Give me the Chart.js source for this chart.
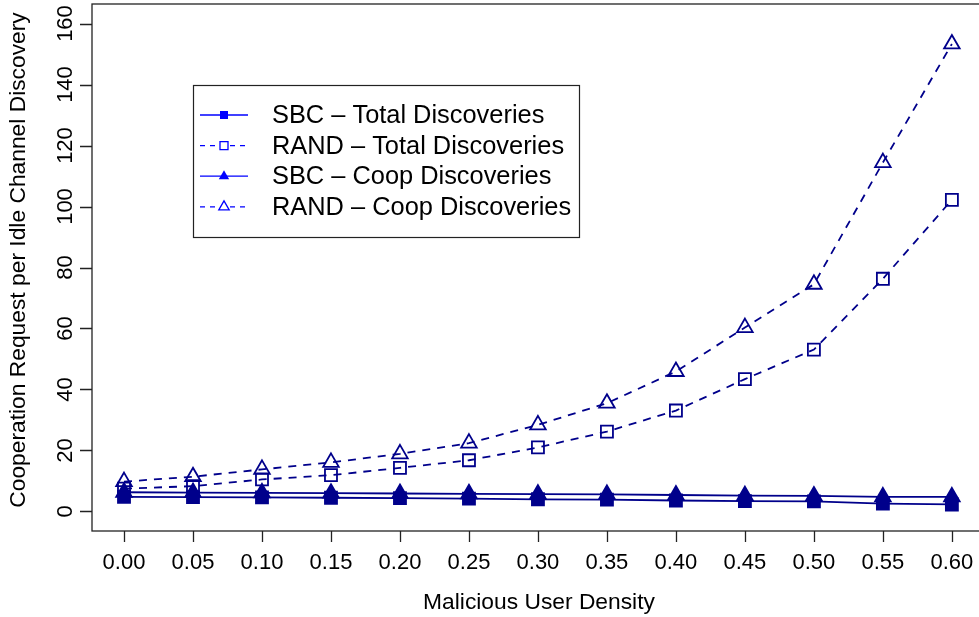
<!DOCTYPE html>
<html>
<head>
<meta charset="utf-8">
<script src="https://cdn.jsdelivr.net/npm/chart.js@4/dist/chart.umd.min.js"></script>
<style>
  html, body { margin: 0; padding: 0; background: #fff; overflow: hidden; }
  #wrap { width: 990px; height: 617px; }
</style>
</head>
<body>
<div id="wrap"><canvas id="chart" width="990" height="617"></canvas></div>
<script>
// malicious user density on the x axis
var density = [0.00, 0.05, 0.10, 0.15, 0.20, 0.25, 0.30, 0.35, 0.40, 0.45, 0.50, 0.55, 0.60];

// cooperation requests per idle channel discovery
var sbcTotal  = [4.8, 4.7, 4.6, 4.5, 4.4, 4.2, 4.0, 3.9, 3.6, 3.4, 3.3, 2.6, 2.3];
var randTotal = [7.5, 8.3, 10.5, 11.9, 14.3, 16.8, 21.0, 26.2, 33.1, 43.4, 53.1, 76.3, 102.2];
var sbcCoop   = [6.3, 6.2, 6.1, 6.0, 5.9, 5.8, 5.7, 5.6, 5.4, 5.2, 5.1, 4.8, 4.8];
var randCoop  = [9.8, 11.4, 13.8, 16.1, 18.9, 22.4, 28.4, 35.5, 45.9, 60.3, 74.5, 114.4, 153.3];

var seriesNames = ['SBC \u2013 Total Discoveries', 'RAND \u2013 Total Discoveries',
                   'SBC \u2013 Coop Discoveries', 'RAND \u2013 Coop Discoveries'];

var xTicks = density;
var yTicks = [0, 20, 40, 60, 80, 100, 120, 140, 160];

var xTitle = 'Malicious User Density';
var yTitle = 'Cooperation Request per Idle Channel Discovery';

var NAVY = '#00008B';
var FONT = '"Liberation Sans", Arial, sans-serif';

function pts(vals) {
  return vals.map(function(v, i) { return {x: density[i], y: v}; });
}

function series(label, vals, shape, filled, dashed) {
  return {
    label: label,
    data: pts(vals),
    borderColor: NAVY,
    borderWidth: 1.8,
    borderDash: dashed ? [8, 7] : [],
    pointStyle: shape,
    pointRadius: shape === 'rect' ? 8.5 : 9,
    pointBorderWidth: 1.8,
    pointBorderColor: NAVY,
    pointBackgroundColor: filled ? NAVY : 'rgba(0,0,0,0)',
    fill: false,
    tension: 0
  };
}

var legendItems = [
  {shape: 'rect', filled: true, dashed: false},
  {shape: 'rect', filled: false, dashed: true},
  {shape: 'triangle', filled: true, dashed: false},
  {shape: 'triangle', filled: false, dashed: true}
];

// box, ticks, tick labels and axis titles in base-graphics style
var axesPlugin = {
  id: 'axesPlugin',
  afterDraw: function(chart) {
    var ctx = chart.ctx, a = chart.chartArea;
    var xs = chart.scales.x, ys = chart.scales.y;
    ctx.save();
    ctx.strokeStyle = '#222';
    ctx.lineWidth = 1.3;
    ctx.strokeRect(a.left, a.top, a.right - a.left, a.bottom - a.top);

    ctx.fillStyle = '#000';
    ctx.font = '22px ' + FONT;

    // x axis
    ctx.beginPath();
    xTicks.forEach(function(t) {
      var px = Math.round(xs.getPixelForValue(t)) + 0.5;
      ctx.moveTo(px, a.bottom);
      ctx.lineTo(px, a.bottom + 11);
    });
    ctx.stroke();
    ctx.textAlign = 'center';
    ctx.textBaseline = 'middle';
    xTicks.forEach(function(t) {
      ctx.fillText(t.toFixed(2), xs.getPixelForValue(t), 563);
    });

    // y axis
    ctx.beginPath();
    yTicks.forEach(function(t) {
      var py = Math.round(ys.getPixelForValue(t)) + 0.5;
      ctx.moveTo(a.left, py);
      ctx.lineTo(a.left - 12, py);
    });
    ctx.stroke();
    yTicks.forEach(function(t) {
      ctx.save();
      ctx.translate(66, ys.getPixelForValue(t));
      ctx.rotate(-Math.PI / 2);
      ctx.fillText(String(t), 0, 0);
      ctx.restore();
    });

    // axis titles
    ctx.font = '22.8px ' + FONT;
    ctx.fillText(xTitle, 539, 603);
    ctx.save();
    ctx.translate(19, 260);
    ctx.rotate(-Math.PI / 2);
    ctx.fillText(yTitle, 0, 0);
    ctx.restore();
    ctx.restore();
  }
};

var legendPlugin = {
  id: 'legendPlugin',
  afterDraw: function(chart) {
    var ctx = chart.ctx;
    var bx = 193, by = 85, bw = 386, bh = 152;
    ctx.save();
    ctx.fillStyle = '#fff';
    ctx.fillRect(bx, by, bw, bh);
    ctx.strokeStyle = '#222';
    ctx.lineWidth = 1.2;
    ctx.strokeRect(bx + 0.5, by + 0.5, bw, bh);

    legendItems.forEach(function(it, i) {
      var y = 115 + i * 30.6;
      ctx.strokeStyle = '#0000FF';
      ctx.fillStyle = '#0000FF';
      ctx.lineWidth = 1.3;
      ctx.setLineDash(it.dashed ? [5, 5] : []);
      ctx.beginPath();
      ctx.moveTo(200, y);
      ctx.lineTo(248, y);
      ctx.stroke();
      ctx.setLineDash([]);
      ctx.beginPath();
      if (it.shape === 'rect') {
        ctx.rect(224 - 4, y - 4, 8, 8);
      } else {
        ctx.moveTo(224, y - 6);
        ctx.lineTo(224 + 5.2, y + 3);
        ctx.lineTo(224 - 5.2, y + 3);
        ctx.closePath();
      }
      if (it.filled) {
        ctx.fill();
      } else {
        ctx.fillStyle = '#fff';
        ctx.fill();
        ctx.stroke();
      }
      ctx.fillStyle = '#000';
      ctx.font = '25.4px ' + FONT;
      ctx.textAlign = 'left';
      ctx.textBaseline = 'middle';
      ctx.fillText(seriesNames[i], 272, y + 1);
    });
    ctx.restore();
  }
};

var ctx = document.getElementById('chart');
var chart = new Chart(ctx, {
  type: 'line',
  data: {
    datasets: [
      series(seriesNames[0], sbcTotal, 'rect', true, false),
      series(seriesNames[1], randTotal, 'rect', false, true),
      series(seriesNames[2], sbcCoop, 'triangle', true, false),
      series(seriesNames[3], randCoop, 'triangle', false, true)
    ]
  },
  options: {
    responsive: false,
    animation: false,
    layout: { autoPadding: false, padding: { left: 92, top: 4, right: 5, bottom: 86 } },
    plugins: {
      legend: { display: false },
      tooltip: { enabled: false }
    },
    scales: {
      x: { type: 'linear', min: -0.0232, max: 0.624, display: false },
      y: { type: 'linear', min: -6.4, max: 166.4, display: false }
    }
  },
  plugins: [axesPlugin, legendPlugin]
});
</script>
</body>
</html>
